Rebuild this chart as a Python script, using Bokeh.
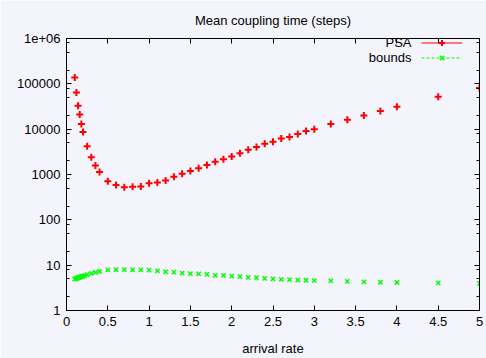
from bokeh.plotting import figure
from bokeh.models import (FixedTicker, LinearAxis, LogAxis, Legend, LegendItem,
                          Label, Range1d, ColumnDataSource, CustomJSTickFormatter)
from bokeh.embed import file_html
from bokeh.resources import INLINE

# ---------------- data ----------------
psa_x = [0.1, 0.12, 0.14, 0.16, 0.18, 0.2, 0.25, 0.3, 0.35, 0.4,
         0.5, 0.6, 0.7, 0.8, 0.9, 1.0, 1.1, 1.2, 1.3, 1.4, 1.5, 1.6, 1.7,
         1.8, 1.9, 2.0, 2.1, 2.2, 2.3, 2.4, 2.5, 2.6, 2.7, 2.8, 2.9, 3.0,
         3.2, 3.4, 3.6, 3.8, 4.0, 4.5, 5.0]
psa_y = [138000, 64600, 33000, 21000, 13000, 8700, 4200, 2400, 1580, 1130,
         710, 590, 520, 540, 545, 645, 665, 740, 890, 1040, 1190, 1380, 1620,
         1920, 2180, 2500, 2940, 3530, 4040, 4760, 5270, 6200, 6700, 7800, 9100, 10000,
         13000, 16200, 20000, 25200, 31200, 52000, 81000]

bounds_x = [0.1, 0.11, 0.12, 0.13, 0.14, 0.15, 0.16, 0.17, 0.18, 0.19, 0.2,
            0.22, 0.25, 0.3, 0.35, 0.4,
            0.5, 0.6, 0.7, 0.8, 0.9, 1.0, 1.1, 1.2, 1.3, 1.4, 1.5, 1.6, 1.7,
            1.8, 1.9, 2.0, 2.1, 2.2, 2.3, 2.4, 2.5, 2.6, 2.7, 2.8, 2.9, 3.0,
            3.2, 3.4, 3.6, 3.8, 4.0, 4.5, 5.0]
bounds_y = [4.9, 5.0, 5.1, 5.2, 5.3, 5.35, 5.45, 5.5, 5.6, 5.65, 5.75,
            5.9, 6.2, 6.6, 6.9, 7.25,
            7.85, 8.0, 8.0, 7.9, 7.9, 7.8, 7.5, 7.1, 7.0, 6.7, 6.5, 6.4, 6.25,
            5.95, 5.95, 5.75, 5.57, 5.4, 5.3, 5.13, 5.0, 4.88, 4.8, 4.7, 4.65, 4.57,
            4.5, 4.4, 4.27, 4.2, 4.15, 4.06, 3.94]

x_ticks = [0, 0.5, 1, 1.5, 2, 2.5, 3, 3.5, 4, 4.5, 5]
x_tick_labels = ["0", "0.5", "1", "1.5", "2", "2.5", "3", "3.5", "4", "4.5", "5"]
y_ticks = [1, 10, 100, 1000, 10000, 100000, 1000000]
y_tick_labels = ["1", "10", "100", "1000", "10000", "100000", "1e+06"]
y_minor_mantissas = [2, 5, 8]

series_labels = ["PSA", "bounds"]
title_text = "Mean coupling time (steps)"
x_label = "arrival rate"

# ---------------- style ----------------
BG = "#f4f4fc"
FONT = "Liberation Sans"
FS = "13px"
RED = "#ff0000"
GREEN = "#00ff00"

y_minor = [m * 10 ** k for k in range(6) for m in y_minor_mantissas]

p = figure(width=486, height=358, output_backend="svg", toolbar_location=None,
           x_range=Range1d(0, 5), y_range=Range1d(1, 1e6), y_axis_type="log",
           min_border_left=66, min_border_right=7, min_border_top=37, min_border_bottom=43,
           background_fill_color=BG, border_fill_color=BG,
           outline_line_color="black", outline_line_width=1,
           title=title_text)
# an off-screen range used only so the legend can show line samples
p.extra_y_ranges = {"legend_only": Range1d(1e9, 1e10)}

p.title.align = "center"
p.title.text_font = FONT
p.title.text_font_size = FS
p.title.text_font_style = "normal"
p.title.text_color = "black"
p.title.standoff = 21

p.xgrid.visible = False
p.ygrid.visible = False

xt = FixedTicker(ticks=x_ticks, minor_ticks=[])
yt = FixedTicker(ticks=y_ticks, minor_ticks=y_minor)

def style_axis(ax, show_labels):
    ax.major_tick_in = 5
    ax.major_tick_out = 0
    ax.minor_tick_in = 3
    ax.minor_tick_out = 0
    ax.axis_line_color = "black"
    ax.major_tick_line_color = "black"
    ax.minor_tick_line_color = "black"
    if show_labels:
        ax.major_label_text_font = FONT
        ax.major_label_text_font_size = FS
        ax.major_label_text_color = "black"
        ax.major_label_standoff = 6
    else:
        ax.formatter = CustomJSTickFormatter(code="return ''")
        ax.major_label_text_font_size = "6px"
        ax.major_label_standoff = 0

p.xaxis.ticker = xt
p.yaxis.ticker = yt
p.xaxis.major_label_overrides = {t: l for t, l in zip(x_ticks, x_tick_labels)}
p.yaxis.major_label_overrides = {t: l for t, l in zip(y_ticks, y_tick_labels)}
style_axis(p.xaxis[0], True)
style_axis(p.yaxis[0], True)
p.xaxis.axis_label = x_label
p.xaxis.axis_label_text_font = FONT
p.xaxis.axis_label_text_font_size = FS
p.xaxis.axis_label_text_font_style = "normal"
p.xaxis.axis_label_text_color = "black"
p.xaxis.axis_label_standoff = 12

top = LinearAxis(ticker=xt)
style_axis(top, False)
p.add_layout(top, "above")
right = LogAxis(ticker=yt)
style_axis(right, False)
p.add_layout(right, "right")

src_psa = ColumnDataSource(dict(x=psa_x, y=psa_y))
src_b = ColumnDataSource(dict(x=bounds_x, y=bounds_y))

r_psa = p.scatter("x", "y", source=src_psa, marker="cross", size=7,
                  line_color=RED, line_width=2)
r_b = p.scatter("x", "y", source=src_b, marker="x", size=6,
                line_color=GREEN, line_width=1.5)

# legend sample lines (drawn against the off-screen range, so clipped away)
l_psa = p.line("x", "y", source=src_psa, y_range_name="legend_only",
               line_color=RED, line_width=1)
l_b = p.line("x", "y", source=src_b, y_range_name="legend_only",
             line_color=GREEN, line_width=1, line_dash="3 2")

legend = Legend(items=[LegendItem(label=" ", renderers=[l_psa, r_psa]),
                       LegendItem(label=" ", renderers=[l_b, r_b])],
                location=(355, 245), glyph_width=41, glyph_height=15,
                label_width=0, label_standoff=0, label_text_font_size="1px",
                padding=0, margin=0, spacing=0,
                background_fill_alpha=0, border_line_alpha=0)
p.add_layout(legend)

for lbl, yy in zip(series_labels, [267.7, 252.7]):
    p.add_layout(Label(x=345, y=yy, x_units="screen", y_units="screen", text=lbl,
                       text_align="right", text_baseline="middle",
                       text_font=FONT, text_font_size=FS, text_color="black"))

html = file_html(p, INLINE)
html = html.replace("<body>", '<body style="background:%s">' % BG, 1)
open("out.html", "w").write(html)
